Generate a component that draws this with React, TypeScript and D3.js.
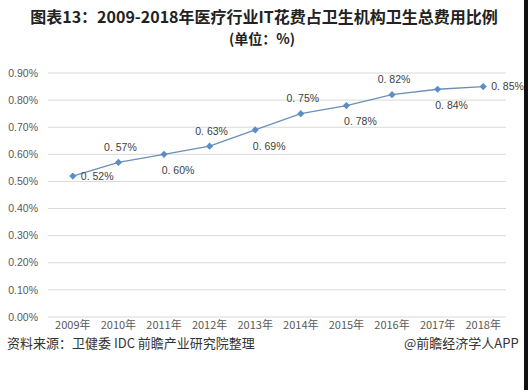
import React from "react";
import * as d3 from "d3";

const years = ["2009年", "2010年", "2011年", "2012年", "2013年", "2014年", "2015年", "2016年", "2017年", "2018年"];
const values = [0.52, 0.57, 0.6, 0.63, 0.69, 0.75, 0.78, 0.82, 0.84, 0.85];
const labelTexts = ["0. 52%", "0. 57%", "0. 60%", "0. 63%", "0. 69%", "0. 75%", "0. 78%", "0. 82%", "0. 84%", "0. 85%"];
const placements = ["right", "above", "below", "above", "below", "above", "below", "above", "below", "right"];
const yTicks = [0, 0.1, 0.2, 0.3, 0.4, 0.5, 0.6, 0.7, 0.8, 0.9];
const titleLine1 = "图表13：2009-2018年医疗行业IT花费占卫生机构卫生总费用比例";
const titleLine2 = "(单位：%)";
const sourceText = "资料来源：卫健委 IDC 前瞻产业研究院整理";
const brandText = "@前瞻经济学人APP";

const W = 528;
const H = 390;
const plotL = 50;
const plotR = 506;
const plotT = 73;
const plotB = 317;

export default function App() {
  const x = d3.scaleBand<string>().domain(years).range([plotL, plotR]);
  const y = d3.scaleLinear().domain([0, 0.9]).range([plotB, plotT]);
  const cx = (i: number) => (x(years[i]) as number) + x.bandwidth() / 2;
  const line = d3
    .line<number>()
    .x((_, i) => cx(i))
    .y((d) => y(d));
  const diamond = d3.symbol().type(d3.symbolSquare).size(26)();
  const latin = "'Liberation Sans', Arial, sans-serif";
  const cjk = "'Noto Sans CJK SC', 'Liberation Sans', sans-serif";

  return (
    <svg width={W} height={H} style={{ position: "absolute", left: 0, top: 0, background: "#fff" }}>
      <rect x={0} y={0} width={W} height={H} fill="#ffffff" />
      <text x={264} y={23} textAnchor="middle" fontFamily={cjk} fontWeight="bold" fontSize={16} fill="#222">
        {titleLine1}
      </text>
      <text x={262} y={44} textAnchor="middle" fontFamily={cjk} fontWeight="bold" fontSize={14} fill="#222">
        {titleLine2}
      </text>

      {yTicks.map((t) => (
        <g key={t}>
          <line x1={plotL - 2} x2={plotR} y1={y(t)} y2={y(t)} stroke="#d9d9d9" strokeWidth={1} />
          <text x={38} y={y(t)} dy="0.35em" textAnchor="end" fontFamily={latin} fontSize={10.5} fill="#595959">
            {t.toFixed(2) + "%"}
          </text>
        </g>
      ))}

      {years.map((yr, i) => (
        <text key={yr} x={cx(i)} y={329} textAnchor="middle" fontFamily={cjk} fontSize={11} fill="#595959">
          {yr}
        </text>
      ))}

      <path d={line(values) as string} fill="none" stroke="#6b8fb8" strokeWidth={1.3} />
      {values.map((v, i) => (
        <path
          key={i}
          d={diamond as string}
          transform={`translate(${cx(i)},${y(v)}) rotate(45)`}
          fill="#5b8ec4"
        />
      ))}

      {values.map((v, i) => {
        const p = placements[i];
        let lx = cx(i);
        let ly = y(v);
        let anchor: "start" | "middle" = "middle";
        if (p === "right") {
          lx += 8;
          anchor = "start";
        } else if (p === "above") {
          lx += 2;
          ly -= 15;
        } else {
          lx += 14;
          ly += 16;
        }
        return (
          <text key={i} x={lx} y={ly} dy="0.35em" textAnchor={anchor} fontFamily={latin} fontSize={10.5} fill="#404040">
            {labelTexts[i]}
          </text>
        );
      })}

      <text x={7} y={348} fontFamily={cjk} fontSize={13} fill="#333">
        {sourceText}
      </text>
      <text x={404} y={348} fontFamily={cjk} fontSize={13} fill="#333">
        {brandText}
      </text>
      <rect x={524} y={0} width={4} height={H} fill="#111" />
    </svg>
  );
}
